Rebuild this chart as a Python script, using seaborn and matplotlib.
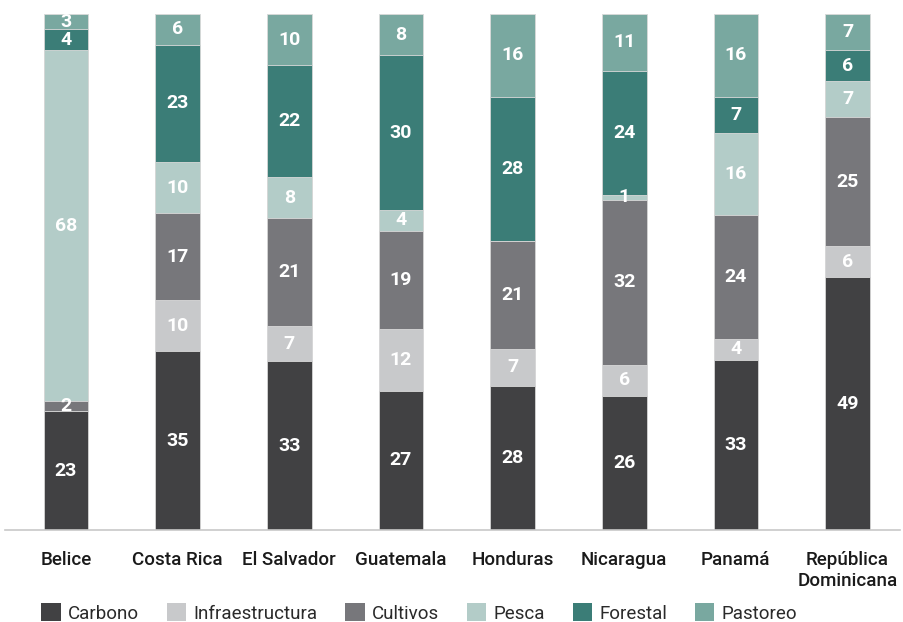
import numpy as np
import pandas as pd
import matplotlib
matplotlib.use("Agg")
import matplotlib.pyplot as plt
import seaborn as sns
from matplotlib.patches import Patch

paises = ["Belice", "Costa Rica", "El Salvador", "Guatemala", "Honduras",
          "Nicaragua", "Panamá", "República\nDominicana"]
sectores = ["Carbono", "Infraestructura", "Cultivos", "Pesca", "Forestal", "Pastoreo"]

carbono = [23, 35, 33, 27, 28, 26, 33, 49]
infraestructura = [0, 10, 7, 12, 7, 6, 4, 6]
cultivos = [2, 17, 21, 19, 21, 32, 24, 25]
pesca = [68, 10, 8, 4, 0, 1, 16, 7]
forestal = [4, 23, 22, 30, 28, 24, 7, 6]
pastoreo = [3, 6, 10, 8, 16, 11, 16, 7]

colores = ["#414143", "#c8c9cb", "#77777b", "#b3ccc8", "#3b7d77", "#79a8a0"]

valores = np.array([carbono, infraestructura, cultivos, pesca, forestal, pastoreo], dtype=float)
# cada barra se lleva al 100 %
shares = valores / valores.sum(axis=0) * 100
acum = shares.cumsum(axis=0)

sns.set_theme(style="white")
plt.rcParams["font.family"] = ["Roboto", "DejaVu Sans"]

fig = plt.figure(figsize=(9.04, 6.22), dpi=100)
ax = fig.add_axes([5 / 904, 92 / 622, 895 / 904, 516 / 622])

# se dibujan de arriba hacia abajo, cada capa con su suma acumulada
for i in range(len(sectores) - 1, -1, -1):
    df = pd.DataFrame({"pais": paises, "alto": acum[i]})
    sns.barplot(data=df, x="pais", y="alto", color=colores[i], width=0.4,
                saturation=1, edgecolor="#d9d9d9", linewidth=0.6, ax=ax)

for i in range(len(sectores)):
    for j in range(len(paises)):
        if valores[i, j] <= 0:
            continue
        y = acum[i, j] - shares[i, j] / 2
        ax.text(j, y, f"{int(valores[i, j])}", ha="center", va="center",
                color="white", fontsize=14, fontweight="bold")

ax.set_xlim(-0.546, 7.47)
ax.set_ylim(0, 100)
ax.set_xlabel("")
ax.set_ylabel("")
ax.set_yticks([])
for s in ["top", "right", "left"]:
    ax.spines[s].set_visible(False)
ax.spines["bottom"].set_color("#c8c8c8")
ax.spines["bottom"].set_linewidth(1.2)
ax.tick_params(axis="x", length=0, pad=15, labelsize=13.5)
for t in ax.get_xticklabels():
    t.set_fontweight("medium")
    t.set_color("#1a1a1a")
    t.set_linespacing(1.25)

handles = [Patch(facecolor=c, edgecolor="none") for c in colores]
fig.legend(handles, sectores, loc="lower left", bbox_to_anchor=(28 / 904, -0.022),
           ncol=6, frameon=False, fontsize=13.5, handlelength=1.05, handleheight=1.05,
           handletextpad=0.4, columnspacing=1.45, borderpad=0.2,
           labelcolor="#2a2a2a")

fig.savefig("out.png", dpi=100)
